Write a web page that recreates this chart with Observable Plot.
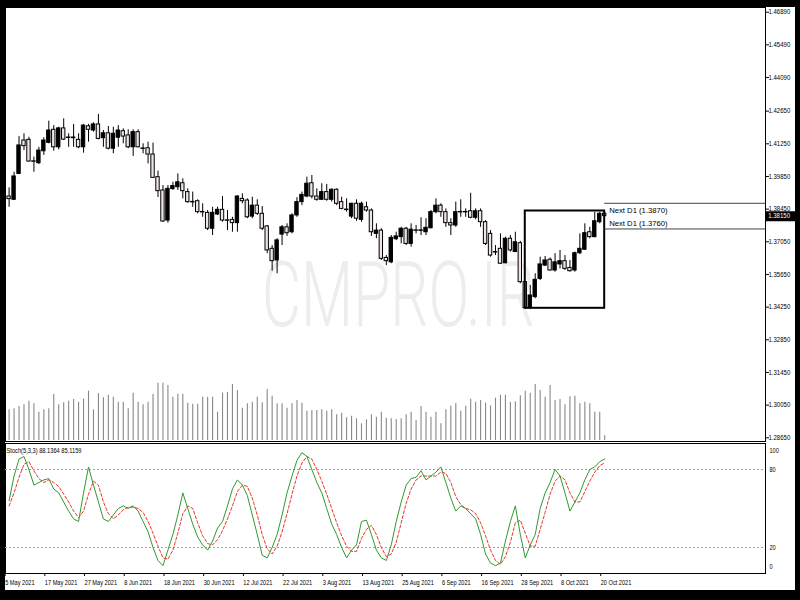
<!DOCTYPE html>
<html><head><meta charset="utf-8">
<script src="https://cdn.jsdelivr.net/npm/d3@7"></script>
<script src="https://cdn.jsdelivr.net/npm/@observablehq/plot@0.6"></script>
<style>
html,body{margin:0;padding:0;background:#000;}
#wrap{position:relative;width:800px;height:600px;background:#000;overflow:hidden;}
#paper{position:absolute;left:5px;top:7px;width:790px;height:583px;background:#fff;}
.layer{position:absolute;left:5px;}
.layer svg{display:block;}
</style></head><body>
<div id="wrap"><div id="paper"></div>
<div class="layer" id="vol" style="top:7px"></div>
<div class="layer" id="price" style="top:7px"></div>
<div class="layer" id="stoch" style="top:441px"></div>
</div>
<script>
// ---- data (GBPUSD D1, 6 May 2021 .. 21 Oct 2021), bar index 0..120 ----
const open = [1.3899,1.3885,1.3996,1.4139,1.4142,1.4050,1.4042,1.4093,1.4129,1.4185,1.4110,1.4191,1.4152,1.4149,1.4142,1.4110,1.4200,1.4182,1.4208,1.4149,1.4170,1.4104,1.4151,1.4179,1.4161,1.4110,1.4175,1.4105,1.4106,1.4079,1.3982,1.3925,1.3796,1.3931,1.3939,1.3956,1.3918,1.3876,1.3879,1.3833,1.3829,1.3761,1.3822,1.3842,1.3797,1.3799,1.3785,1.3889,1.3882,1.3813,1.3860,1.3825,1.3771,1.3675,1.3625,1.3736,1.3767,1.3746,1.3818,1.3875,1.3899,1.3956,1.3899,1.3885,1.3918,1.3885,1.3928,1.3875,1.3843,1.3813,1.3868,1.3799,1.3853,1.3839,1.3739,1.3753,1.3636,1.3617,1.3716,1.3725,1.3761,1.3696,1.3754,1.3752,1.3746,1.3763,1.3832,1.3860,1.3832,1.3785,1.3775,1.3833,1.3831,1.3836,1.3808,1.3836,1.3789,1.3739,1.3661,1.3675,1.3613,1.3718,1.3661,1.3699,1.3532,1.3421,1.3468,1.3546,1.3603,1.3628,1.3582,1.3608,1.3622,1.3593,1.3582,1.3656,1.3671,1.3746,1.3725,1.3789,1.3825];
const high = [1.3936,1.4003,1.4156,1.4168,1.4153,1.4068,1.4110,1.4151,1.4222,1.4203,1.4196,1.4232,1.4168,1.4208,1.4168,1.4208,1.4208,1.4215,1.4251,1.4182,1.4199,1.4196,1.4203,1.4189,1.4185,1.4185,1.4185,1.4125,1.4132,1.4128,1.4008,1.3946,1.3946,1.3960,1.3996,1.3975,1.3932,1.3918,1.3885,1.3868,1.3839,1.3853,1.3853,1.3899,1.3839,1.3810,1.3903,1.3911,1.3889,1.3896,1.3885,1.3856,1.3775,1.3689,1.3718,1.3775,1.3782,1.3825,1.3894,1.3918,1.3982,1.3989,1.3932,1.3954,1.3951,1.3932,1.3932,1.3896,1.3889,1.3870,1.3885,1.3875,1.3875,1.3846,1.3782,1.3761,1.3646,1.3732,1.3746,1.3767,1.3767,1.3782,1.3775,1.3808,1.3804,1.3839,1.3889,1.3868,1.3846,1.3804,1.3875,1.3885,1.3846,1.3913,1.3846,1.3846,1.3796,1.3753,1.3689,1.3739,1.3725,1.3732,1.3746,1.3707,1.3535,1.3518,1.3568,1.3639,1.3642,1.3636,1.3654,1.3668,1.3646,1.3625,1.3661,1.3739,1.3782,1.3767,1.3832,1.3832,1.3832];
const low = [1.3853,1.3884,1.3993,1.4096,1.4046,1.4003,1.4036,1.4075,1.4125,1.4093,1.4099,1.4139,1.4110,1.4110,1.4104,1.4085,1.4132,1.4175,1.4142,1.4110,1.4099,1.4082,1.4110,1.4125,1.4104,1.4071,1.4108,1.4082,1.4039,1.3977,1.3895,1.3788,1.3785,1.3925,1.3925,1.3889,1.3870,1.3853,1.3825,1.3810,1.3753,1.3732,1.3818,1.3789,1.3753,1.3746,1.3746,1.3868,1.3804,1.3804,1.3818,1.3753,1.3654,1.3579,1.3568,1.3689,1.3728,1.3739,1.3810,1.3860,1.3894,1.3889,1.3879,1.3882,1.3879,1.3875,1.3860,1.3842,1.3832,1.3804,1.3793,1.3789,1.3832,1.3728,1.3718,1.3625,1.3603,1.3611,1.3710,1.3696,1.3689,1.3682,1.3739,1.3732,1.3732,1.3761,1.3825,1.3810,1.3767,1.3732,1.3767,1.3810,1.3810,1.3804,1.3799,1.3767,1.3689,1.3639,1.3646,1.3608,1.3611,1.3661,1.3659,1.3525,1.3416,1.3414,1.3461,1.3539,1.3599,1.3579,1.3575,1.3589,1.3582,1.3575,1.3575,1.3650,1.3668,1.3718,1.3722,1.3782,1.3810];
const close = [1.3888,1.3985,1.4118,1.4115,1.4049,1.4048,1.4096,1.4139,1.4182,1.4110,1.4191,1.4143,1.4150,1.4152,1.4110,1.4203,1.4185,1.4208,1.4146,1.4170,1.4104,1.4168,1.4182,1.4156,1.4110,1.4175,1.4110,1.4103,1.4079,1.3979,1.3922,1.3792,1.3932,1.3944,1.3960,1.3922,1.3875,1.3874,1.3832,1.3831,1.3761,1.3829,1.3842,1.3796,1.3795,1.3785,1.3899,1.3879,1.3810,1.3860,1.3825,1.3761,1.3668,1.3622,1.3711,1.3767,1.3742,1.3818,1.3875,1.3906,1.3954,1.3899,1.3885,1.3918,1.3885,1.3928,1.3868,1.3846,1.3841,1.3868,1.3804,1.3868,1.3839,1.3746,1.3753,1.3632,1.3622,1.3722,1.3728,1.3761,1.3696,1.3757,1.3752,1.3754,1.3765,1.3832,1.3860,1.3832,1.3785,1.3775,1.3832,1.3831,1.3833,1.3808,1.3836,1.3789,1.3696,1.3646,1.3659,1.3611,1.3718,1.3668,1.3703,1.3532,1.3421,1.3475,1.3542,1.3608,1.3625,1.3582,1.3617,1.3622,1.3589,1.3579,1.3656,1.3675,1.3742,1.3725,1.3793,1.3825,1.3815];
const volume = [92,95,102,107,118,110,85,92,95,138,107,113,118,123,115,124,148,92,140,128,136,130,115,115,95,142,115,107,115,138,172,172,165,130,139,139,112,109,109,130,130,130,85,142,144,168,150,97,110,115,130,113,153,133,110,110,97,110,120,112,88,90,90,92,88,92,77,82,68,73,65,50,62,77,70,85,67,65,63,65,77,85,60,102,85,70,85,50,92,103,110,88,103,124,115,120,112,104,127,136,136,114,116,134,148,142,168,150,130,165,120,123,107,131,133,110,115,110,85,85,14];
const stochK = [56,75,88,90,80,68,70,72,73,65,62,55,48,42,40,62,82,68,55,42,40,45,50,52,50,52,48,40,32,20,10,6,18,30,45,62,50,38,28,22,18,25,35,40,52,65,72,68,60,45,30,14,12,20,30,45,62,75,87,93,90,80,70,62,50,38,30,20,12,18,22,40,41,30,18,12,10,22,40,55,68,73,74,79,72,75,78,82,70,58,48,52,50,46,42,30,15,8,6,8,25,40,52,30,12,22,30,50,62,70,80,75,62,48,55,62,72,80,82,86,88.1364];
const stochD = [52,62,74,84,86,79,73,70,72,70,67,61,55,48,43,48,61,71,68,55,46,42,45,49,51,51,50,47,40,31,21,12,11,18,31,46,52,50,39,29,23,22,26,33,42,52,63,68,67,58,45,30,19,15,21,32,46,61,75,85,90,88,80,71,61,50,39,29,21,17,17,27,34,37,30,20,13,15,24,39,54,65,72,75,75,75,75,78,77,70,59,53,50,49,46,39,29,18,10,7,13,24,39,41,31,21,21,34,47,61,71,75,72,62,55,55,63,71,78,83,85.1159];
const priceTicks = [1.46890,1.45490,1.44090,1.42650,1.41250,1.39850,1.38450,1.37050,1.35650,1.34250,1.32850,1.31450,1.30050,1.28650];
const dateTickIndex = [-1,7,15,23,31,39,47,55,63,71,79,87,95,103,111,119];
const dateTickLabels = ["5 May 2021","17 May 2021","27 May 2021","8 Jun 2021","18 Jun 2021","30 Jun 2021","12 Jul 2021","22 Jul 2021","3 Aug 2021","13 Aug 2021","25 Aug 2021","6 Sep 2021","16 Sep 2021","28 Sep 2021","8 Oct 2021","20 Oct 2021"];
const nextLevels = [1.3870, 1.3760];
const nextLabels = ["Next D1 (1.3870)", "Next D1 (1.3760)"];
const boxes = [{from: 104, to: 120, top: 1.3837, bottom: 1.3420}];
const stochLevels = [80, 20];
const stochAxisLabels = [100, 80, 20, 0];
const stochTitle = "Stoch(5,3,3) 88.1364 85.1159";
const watermark = "CMPRO.IR";

// ---- tables ----
const candles = open.map((o, i) => ({i, o, h: high[i], l: low[i], c: close[i], v: volume[i]}));
const stoch = stochK.map((k, i) => ({i, k, d: stochD[i]}));
const lastClose = close[close.length - 1];

const XMIN = -0.725, XMAX = 152.4;
const FONT = "'Liberation Sans',Arial,sans-serif";
const xOpt = {type: "linear", domain: [XMIN, XMAX], range: [0, 760], axis: null};
const base = {width: 790, marginLeft: 0, marginRight: 30,
  style: {background: "transparent", fontFamily: FONT, fontSize: "7.5px", color: "#000", overflow: "visible"}};

// condense text horizontally (the reference uses a narrow screen font)
function condense(svg, ratioFor) {
  svg.querySelectorAll("text").forEach(t => {
    const r = ratioFor(t.textContent);
    if (!r) return;
    const len = t.getComputedTextLength();
    if (!(len > 0)) return;
    t.setAttribute("textLength", (len * r).toFixed(2));
    t.setAttribute("lengthAdjust", "spacingAndGlyphs");
  });
}

// volume layer
document.getElementById("vol").append(Plot.plot({
  ...base, height: 434, marginTop: 0, marginBottom: 0,
  x: xOpt,
  y: {domain: [0, 180], range: [433, 373], axis: null},
  marks: [
    Plot.ruleX(candles, {x: "i", y1: 0, y2: "v", stroke: "#888888", strokeWidth: 1.1})
  ]
}));

// price layer
const bulls = candles.filter(d => d.c >= d.o);
const bears = candles.filter(d => d.c < d.o);
const priceSvg = Plot.plot({
  ...base, height: 434, marginTop: 0, marginBottom: 0,
  x: xOpt,
  y: {domain: [1.2865, 1.4689], range: [430.3, 4.7], axis: null},
  marks: [
    Plot.text([watermark], {frameAnchor: "middle", dx: 13, dy: 73, fontSize: 90, fontWeight: 300, fill: "#ededed", fontFamily: "Roboto,'Liberation Sans',sans-serif", text: d => d}),
    Plot.frame({stroke: "#000"}),
    Plot.ruleX(candles, {x: "i", y1: "l", y2: "h", stroke: "#000", strokeWidth: 1}),
    Plot.rect(bears, {x1: d => d.i - 0.34, x2: d => d.i + 0.34, y1: "o", y2: "c", fill: "#f1e4e4", stroke: "#000", strokeWidth: 1}),
    Plot.rect(bulls, {x1: d => d.i - 0.34, x2: d => d.i + 0.34, y1: "o", y2: "c", fill: "#000", stroke: "#000", strokeWidth: 1}),
    Plot.rect(boxes, {x1: "from", x2: "to", y1: "bottom", y2: "top", fill: "none", stroke: "#000", strokeWidth: 2}),
    Plot.ruleY(nextLevels, {y: d => d, x1: () => 120, x2: () => XMAX, stroke: "#444", strokeWidth: 1}),
    Plot.text(nextLabels.slice(0, 1), {x: () => 120, y: () => nextLevels[0], dx: 4.5, dy: 4, textAnchor: "start", lineAnchor: "top", fontSize: 8, fill: "#000", text: d => d}),
    Plot.text(nextLabels.slice(1), {x: () => 120, y: () => nextLevels[1], dx: 4.5, dy: -3, textAnchor: "start", lineAnchor: "bottom", fontSize: 8, fill: "#000", text: d => d}),
    Plot.axisY({anchor: "right", ticks: priceTicks, tickFormat: d3.format(".5f"), tickSize: 3, tickPadding: 0, label: null, fontSize: 7}),
    Plot.ruleY([lastClose], {y: d => d, x1: () => XMAX + 0.1, x2: () => XMAX + 6.5, stroke: "#000", strokeWidth: 10}),
    Plot.text([lastClose], {y: d => d, x: () => XMAX + 0.55, textAnchor: "start", fill: "#fff", fontSize: 7, text: d => d3.format(".5f")(d)})
  ]
});
document.getElementById("price").append(priceSvg);
condense(priceSvg, s => s === watermark ? 0.78 : /^\d\.\d{5}$/.test(s) ? 0.86 : /^Next/.test(s) ? 0.96 : null);
{
  const wm = [...priceSvg.querySelectorAll("text")].find(t => t.textContent === watermark);
  if (wm) { wm.setAttribute("textLength", "273"); wm.setAttribute("lengthAdjust", "spacingAndGlyphs"); }
}

// stochastic layer + date axis
const stochSvg = Plot.plot({
  ...base, height: 150, marginTop: 2, marginBottom: 18,
  x: xOpt,
  y: {domain: [0, 100], range: [132, 2], axis: null},
  marks: [
    Plot.frame({stroke: "#000"}),
    Plot.ruleY(stochLevels, {stroke: "#a0a0a0", strokeDasharray: "2,2", strokeWidth: 1}),
    Plot.line(stoch, {x: "i", y: "d", stroke: "#e8372c", strokeWidth: 1, strokeDasharray: "3,2"}),
    Plot.line(stoch, {x: "i", y: "k", stroke: "#2f9a2f", strokeWidth: 1}),
    Plot.text([stochTitle], {frameAnchor: "top-left", dx: 1, dy: 4, textAnchor: "start", lineAnchor: "top", fontSize: 7.5, fill: "#000", text: d => d}),
    Plot.text(stochAxisLabels, {y: d => d, frameAnchor: "right", dx: 4, textAnchor: "start",
      fontSize: 7, fill: "#000", text: d => String(d), lineAnchor: "middle",
      filter: d => d === 80 || d === 20}),
    Plot.text(stochAxisLabels.filter(d => d === 100), {y: d => d, frameAnchor: "right", dx: 4, dy: 7, textAnchor: "start", fontSize: 7, fill: "#000", text: d => String(d)}),
    Plot.text(stochAxisLabels.filter(d => d === 0), {y: d => d, frameAnchor: "right", dx: 4, dy: -7, textAnchor: "start", fontSize: 7, fill: "#000", text: d => String(d)}),
    Plot.axisX({ticks: dateTickIndex, tickFormat: i => dateTickLabels[dateTickIndex.indexOf(i)], textAnchor: "start", dx: 1, tickSize: 3, tickPadding: 3, label: null, fontSize: 7.5, anchor: "bottom"})
  ]
});
document.getElementById("stoch").append(stochSvg);
condense(stochSvg, s => /2021$/.test(s) ? 0.75 : /^Stoch/.test(s) ? 0.76 : /^\d{1,3}$/.test(s) ? 0.8 : null);
</script>
</body></html>
